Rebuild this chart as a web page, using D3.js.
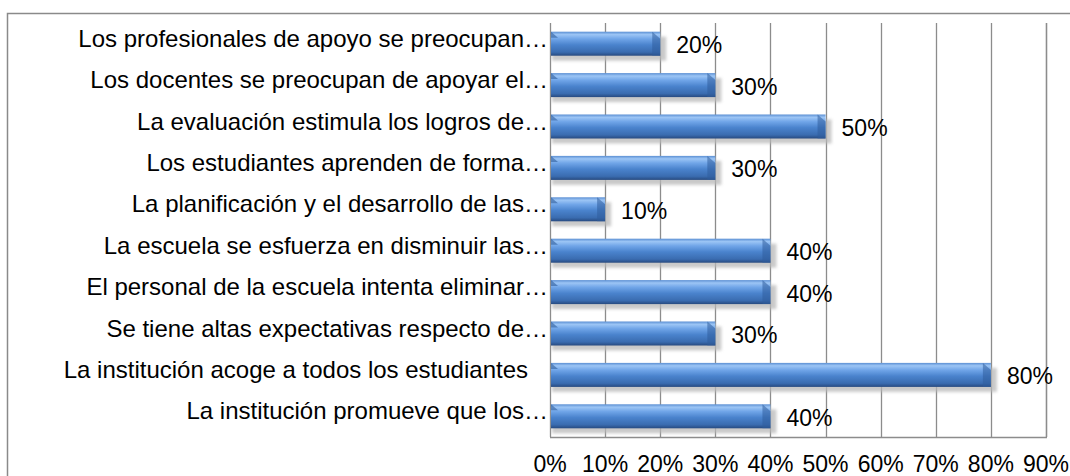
<!DOCTYPE html>
<html>
<head>
<meta charset="utf-8">
<script src="https://cdn.jsdelivr.net/npm/d3@7"></script>
<style>
  body { margin: 0; background: #fff; }
  text { font-family: "Liberation Sans", Arial, sans-serif; fill: #000; }
</style>
</head>
<body>
<svg id="chart" width="1070" height="476"></svg>
<script>
// categories top to bottom, as they appear
var categories = [
  "Los profesionales de apoyo se preocupan\u2026",
  "Los docentes se preocupan de apoyar el\u2026",
  "La evaluación estimula los logros de\u2026",
  "Los estudiantes aprenden de forma\u2026",
  "La planificación y el desarrollo de las\u2026",
  "La escuela se esfuerza en disminuir las\u2026",
  "El personal de la escuela intenta eliminar\u2026",
  "Se tiene altas expectativas respecto de\u2026",
  "La institución acoge a todos los estudiantes\u00a0\u00a0\u00a0",
  "La institución promueve que los\u2026"
];
var values = [0.2, 0.3, 0.5, 0.3, 0.1, 0.4, 0.4, 0.3, 0.8, 0.4];
var ticks = [0, 0.1, 0.2, 0.3, 0.4, 0.5, 0.6, 0.7, 0.8, 0.9];

var svg = d3.select("#chart");
var plotLeft = 550, plotRight = 1046, plotTop = 23, plotBottom = 437;
var fs = 23;

var x = d3.scaleLinear().domain([0, 0.9]).range([plotLeft, plotRight]);
var y = d3.scaleBand().domain(categories).range([plotTop, plotBottom]).paddingInner(0.42).paddingOuter(0.21);
var pct = d3.format(".0%");

var defs = svg.append("defs");
var g1 = defs.append("linearGradient").attr("id", "barGrad")
  .attr("x1", 0).attr("y1", 0).attr("x2", 0).attr("y2", 1);
[[0, "#5b8fd3"], [0.12, "#9cc5f5"], [0.3, "#70a5e8"], [0.55, "#4a83cd"], [0.85, "#3a6cb0"], [1, "#274a80"]]
  .forEach(function(s) { g1.append("stop").attr("offset", s[0]).attr("stop-color", s[1]); });
defs.append("filter").attr("id", "blur").attr("x", -0.1).attr("y", -0.5).attr("width", 1.2).attr("height", 2)
  .append("feGaussianBlur").attr("stdDeviation", 1.6);

// outer frame (runs off the page on the right and bottom)
svg.append("rect").attr("x", 7.5).attr("y", 13.5).attr("width", 1100).attr("height", 500)
  .attr("fill", "none").attr("stroke", "#8a8a8a").attr("stroke-width", 1.5);

// gridlines
svg.selectAll(".grid").data(ticks.concat([0.9])).enter().append("line")
  .attr("x1", function(d) { return Math.round(x(d)) + 0.5; })
  .attr("x2", function(d) { return Math.round(x(d)) + 0.5; })
  .attr("y1", plotTop).attr("y2", plotBottom)
  .attr("stroke", "#8c8c8c").attr("stroke-width", 1.3);
svg.append("line").attr("x1", plotLeft).attr("x2", plotRight + 1).attr("y1", plotBottom + 0.5).attr("y2", plotBottom + 0.5)
  .attr("stroke", "#8c8c8c").attr("stroke-width", 1.5);

// shadows
svg.selectAll(".shadow").data(values).enter().append("rect")
  .attr("x", x(0) + 2)
  .attr("y", function(d, i) { return y(categories[i]) + 5; })
  .attr("width", function(d) { return x(d) - x(0) + 4; })
  .attr("height", y.bandwidth())
  .attr("fill", "#b8b8b8").attr("opacity", 0.75)
  .attr("filter", "url(#blur)");

// bars
svg.selectAll(".bar").data(values).enter().append("rect")
  .attr("x", x(0) + 1)
  .attr("y", function(d, i) { return y(categories[i]); })
  .attr("width", function(d) { return x(d) - x(0) - 1; })
  .attr("height", y.bandwidth())
  .attr("fill", "url(#barGrad)");

// bevelled ends
svg.selectAll(".capR").data(values).enter().append("path")
  .attr("d", function(d, i) {
    var x1 = x(d), y0 = y(categories[i]), h = y.bandwidth();
    return "M" + (x1 - 8) + "," + y0 + "L" + x1 + "," + (y0 + 7) + "L" + x1 + "," + (y0 + h) + "L" + (x1 - 8) + "," + (y0 + h) + "Z";
  })
  .attr("fill", "#2f5d9c").attr("opacity", 0.55);
svg.selectAll(".capL").data(values).enter().append("path")
  .attr("d", function(d, i) {
    var x0 = x(0) + 1, y0 = y(categories[i]);
    return "M" + x0 + "," + y0 + "L" + (x0 + 7) + "," + (y0 + 6) + "L" + x0 + "," + (y0 + 6) + "Z";
  })
  .attr("fill", "#2f5d9c").attr("opacity", 0.6);

// value labels
svg.selectAll(".val").data(values).enter().append("text")
  .attr("x", function(d) { return x(d) + 16; })
  .attr("y", function(d, i) { return y(categories[i]) + y.bandwidth() / 2 + 9.5; })
  .attr("font-size", fs)
  .text(function(d) { return pct(d); });

// category labels
svg.selectAll(".cat").data(categories).enter().append("text")
  .attr("x", plotLeft - 2)
  .attr("y", function(d) { return y(d) + y.bandwidth() / 2 + 3; })
  .attr("text-anchor", "end")
  .attr("font-size", 24)
  .text(function(d) { return d; });

// x axis labels
svg.selectAll(".tick").data(ticks).enter().append("text")
  .attr("x", function(d) { return x(d); })
  .attr("y", 472)
  .attr("text-anchor", "middle")
  .attr("font-size", fs)
  .text(function(d) { return pct(d); });
</script>
</body>
</html>
